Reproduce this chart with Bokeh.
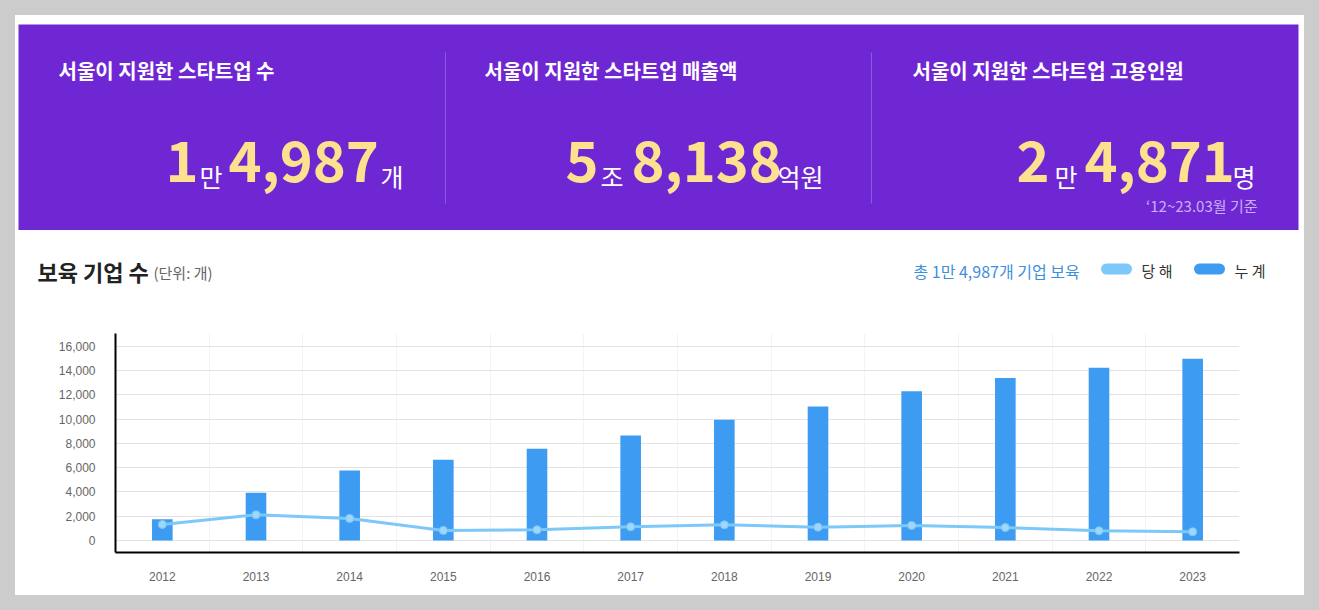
from bokeh.plotting import figure
from bokeh.models import Range1d, FactorRange, ColumnDataSource, NumeralTickFormatter, FixedTicker
from bokeh.layouts import column
from bokeh.embed import file_html
from bokeh.resources import INLINE
from bokeh.core.properties import value

# ---------------- data ----------------
years = [str(y) for y in range(2012, 2024)]
cumulative = [1760, 3930, 5770, 6650, 7560, 8660, 9950, 11050, 12300, 13400, 14240, 14987]
annual = [1320, 2120, 1820, 830, 880, 1130, 1290, 1100, 1240, 1070, 800, 720]
y_ticks = [0, 2000, 4000, 6000, 8000, 10000, 12000, 14000, 16000]

stat_titles = ["서울이 지원한 스타트업 수", "서울이 지원한 스타트업 매출액", "서울이 지원한 스타트업 고용인원"]
stat_lead = ["1", "5", "2"]
stat_lead_unit = ["만", "조", "만"]
stat_main = ["4,987", "8,138", "4,871"]
stat_unit = ["개", "억원", "명"]
footnote = "‘12~23.03월 기준"
chart_title = "보육 기업 수"
chart_unit = "(단위: 개)"
total_note = "총 1만 4,987개 기업 보육"
legend_labels = ["당 해", "누 계"]

# ---------------- style ----------------
KR = value("Noto Sans CJK KR")
LAT = "Liberation Sans"
PURPLE = "#6f27d3"
YELLOW = "#fde18e"
BAR = "#3d9cf2"
LINE = "#7cc8f8"
W = 1289

# ---------------- banner ----------------
banner = figure(width=W, height=215, x_range=Range1d(18, 1298), y_range=Range1d(230, 24),
                toolbar_location=None, output_backend="svg", frame_align=False,
                x_axis_location=None, y_axis_location=None,
                min_border_left=3, min_border_right=6, min_border_top=9, min_border_bottom=0,
                background_fill_color=PURPLE, border_fill_color="white", outline_line_color=None)
banner.grid.visible = False

banner.segment(x0=[445, 871], y0=[52, 52], x1=[445, 871], y1=[203, 203],
               line_color="#8d5ae0", line_width=1)

banner.text(x=[58, 484, 912], y=[70, 70, 70], text=stat_titles, text_font=KR,
            text_font_size="20px", text_font_style="bold", text_color="white",
            text_align="left", text_baseline="middle")
banner.text(x=[165, 565, 1016], y=[161, 161, 161], text=stat_lead, text_font=KR,
            text_font_size="56px", text_font_style="bold", text_color=YELLOW,
            text_align="left", text_baseline="alphabetic")
banner.text(x=[199, 600, 1054], y=[175, 175, 175], text=stat_lead_unit, text_font=KR,
            text_font_size="25px", text_color="white",
            text_align="left", text_baseline="alphabetic")
banner.text(x=[228, 631, 1084], y=[161, 161, 161], text=stat_main, text_font=KR,
            text_font_size="56px", text_font_style="bold", text_color=YELLOW,
            text_align="left", text_baseline="alphabetic")
banner.text(x=[380, 777, 1232], y=[175, 175, 175], text=stat_unit, text_font=KR,
            text_font_size="25px", text_color="white",
            text_align="left", text_baseline="alphabetic")
banner.text(x=[1257], y=[205], text=[footnote], text_font=KR,
            text_font_size="15px", text_color="#c7b0f3",
            text_align="right", text_baseline="middle")

# ---------------- header (title + legend) ----------------
header = figure(width=W, height=80, x_range=Range1d(15, 1304), y_range=Range1d(310, 230),
                toolbar_location=None, output_backend="svg", frame_align=False,
                x_axis_location=None, y_axis_location=None,
                min_border=0, min_border_left=0, min_border_right=0, min_border_top=0, min_border_bottom=0,
                background_fill_color="white", border_fill_color="white", outline_line_color=None)
header.grid.visible = False
header.text(x=[37], y=[270], text=[chart_title], text_font=KR, text_font_size="22px",
            text_font_style="bold", text_color="#222222", text_align="left", text_baseline="middle")
header.text(x=[153], y=[272], text=[chart_unit], text_font=KR, text_font_size="15px",
            text_color="#666666", text_align="left", text_baseline="middle")
header.text(x=[913], y=[270], text=[total_note], text_font=KR, text_font_size="16px",
            text_color="#3f8fdc", text_align="left", text_baseline="middle")
header.segment(x0=[1106, 1199], y0=[268.5, 268.5], x1=[1126, 1219], y1=[268.5, 268.5],
               line_color=[LINE, BAR], line_width=11, line_cap="round")
header.text(x=[1141, 1234], y=[270, 270], text=legend_labels, text_font=KR, text_font_size="15px",
            text_color="#333333", text_align="left", text_baseline="middle")

# ---------------- chart ----------------
src = ColumnDataSource(dict(year=years, cum=cumulative, ann=annual))
p = figure(width=W, height=285, x_range=FactorRange(*years), y_range=Range1d(-990, 17070),
           toolbar_location=None, output_backend="svg", frame_align=False,
           min_border_left=100, min_border_right=65, min_border_top=23, min_border_bottom=43,
           background_fill_color="white", border_fill_color="white", outline_line_color=None)

p.vbar(x="year", top="cum", width=0.22, source=src, fill_color=BAR, line_color=None)
p.line(x="year", y="ann", source=src, line_color=LINE, line_width=3)
p.scatter(x="year", y="ann", source=src, size=8, fill_color="#9fd6fa", line_color=LINE, line_width=1)

p.yaxis.ticker = FixedTicker(ticks=y_ticks)
p.yaxis.formatter = NumeralTickFormatter(format="0,0")
for ax in (p.xaxis[0], p.yaxis[0]):
    ax.axis_line_color = "black"
    ax.axis_line_width = 2
    ax.major_tick_line_color = None
    ax.minor_tick_line_color = None
    ax.major_tick_out = 0
    ax.major_tick_in = 0
    ax.major_label_text_font = LAT
    ax.major_label_text_font_size = "12px"
    ax.major_label_text_color = "#666666"
p.yaxis.major_label_standoff = 20
p.xaxis.major_label_standoff = 19

p.ygrid.ticker = FixedTicker(ticks=y_ticks)
p.ygrid.grid_line_color = "#e3e3e3"
p.xgrid.ticker = FixedTicker(ticks=list(range(1, 12)))
p.xgrid.grid_line_color = "#f3f3f3"

layout = column(banner, header, p, spacing=0, margin=(15, 0, 0, 15),
                styles={"background-color": "white"})

html = file_html(layout, INLINE, title="보육 기업 수")
html = html.replace("</head>", "<style>html,body{background-color:#cccccc;}</style></head>", 1)
open("out.html", "w").write(html)
